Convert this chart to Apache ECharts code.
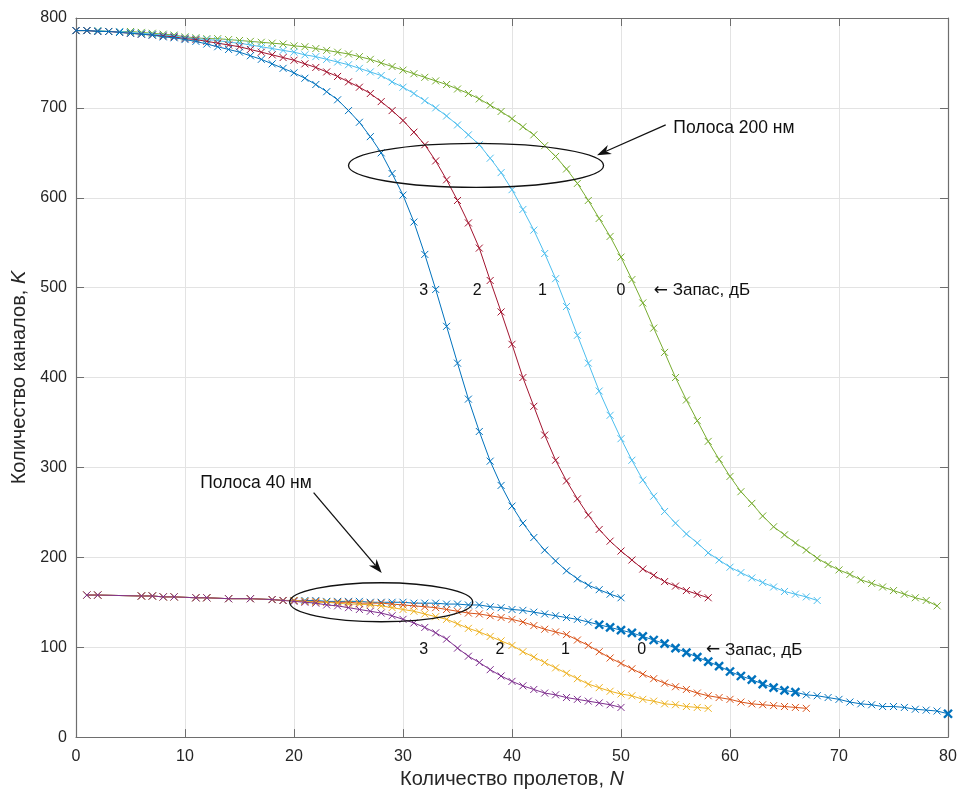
<!DOCTYPE html>
<html>
<head>
<meta charset="utf-8">
<script src="https://cdn.jsdelivr.net/npm/echarts@6/dist/echarts.min.js"></script>
<style>
  html, body { margin: 0; padding: 0; background: #fff; }
  #main { width: 962px; height: 794px; }
</style>
</head>
<body>
<div id="main"></div>
<script>
// Полоса 200 нм: x = 0,1,2,... (шаг 1)
var top3 = [786,786,785,785,784,783,782,781,779,778,776,774,771,768,765,762,758,754,749,744,739,733,726,718,709,697,684,668,650,627,603,573,537,498,457,416,376,340,307,280,257,238,222,208,196,185,176,169,164,159,155];
var top2 = [786,786,785,785,784,783,782,781,780,779,777,776,774,772,770,768,765,762,759,756,753,749,745,740,735,729,723,716,707,697,686,673,659,641,620,597,572,544,508,473,437,400,368,336,308,285,265,247,231,218,207,197,187,180,173,168,163,159,155];
var top1 = [786,786,786,785,785,784,783,782,781,780,778,777,776,775,773,772,770,768,766,764,762,759,757,754,751,748,744,740,736,729,723,716,708,700,691,681,670,659,644,628,609,587,564,538,510,479,447,416,385,358,332,308,286,268,251,238,226,216,205,197,189,183,177,172,167,162,159,156,152];
var top0 = [786,786,786,785,785,785,784,783,782,781,779,778,777,777,776,775,774,773,772,771,769,768,766,764,762,760,757,754,750,746,742,738,734,730,726,721,716,710,703,696,688,679,670,658,646,632,616,597,577,557,534,509,483,455,428,400,375,352,329,309,290,273,260,246,234,225,216,208,199,192,186,181,175,171,167,163,159,155,152,146];

// Полоса 40 нм: первые точки на неравномерной сетке, далее x = 20,21,...
var earlyX = [1,2,6,7,8,9,11,12,14,16,18,19];
var earlyY = [158,158,157,157,156,156,155,155,154,154,153,152];
var bot0 = [152,152,152,151,151,151,151,150,150,150,150,149,149,149,148,148,147,147,145,144,142,141,139,137,135,133,131,128,125,122,119,116,112,108,104,99,94,89,84,79,73,68,64,59,55,52,50,47,46,44,42,39,37,36,34,34,33,31,30,29,26];
var bot1 = [152,151,151,150,150,150,149,149,149,148,147,146,145,144,142,140,138,137,135,133,131,128,124,120,117,114,108,102,95,88,82,76,70,65,60,56,53,49,46,44,42,39,37,36,35,34,33,32];
var bot2 = [152,151,150,150,149,148,148,147,146,144,142,140,137,134,131,126,121,117,112,107,102,95,89,83,77,71,65,59,55,51,48,46,42,40,37,36,34,33,32];
var bot3 = [151,150,149,147,146,144,142,140,138,135,131,127,122,116,109,99,90,83,75,68,62,57,53,49,47,44,42,40,38,36,33];
var bot0Bold = [48,49,50,51,52,53,54,55,56,57,58,59,60,61,62,63,64,65,66,80];

var CROSS = 'path://M0,0L10,10M10,0L0,10';

function topData(arr) {
  return arr.map(function (v, i) { return [i, v]; });
}
function botData(arr, bold) {
  var d = [];
  earlyX.forEach(function (x, i) { d.push([x, earlyY[i]]); });
  arr.forEach(function (v, i) {
    var x = 20 + i;
    if (bold && bold.indexOf(x) >= 0) {
      d.push({ value: [x, v], symbolSize: 8, itemStyle: { borderWidth: 2.4 } });
    } else {
      d.push([x, v]);
    }
  });
  return d;
}
function line(data, color, z) {
  return {
    type: 'line',
    data: data,
    symbol: CROSS,
    symbolSize: 7,
    showAllSymbol: true,
    z: z,
    lineStyle: { color: color, width: 1 },
    itemStyle: { color: color, borderColor: color, borderWidth: 1 }
  };
}

var chart = echarts.init(document.getElementById('main'));
var axisCol = '#6e6e6e';
var txtCol = '#262626';
var font = 'Liberation Sans, Arial, sans-serif';
var nameRich = {
  t: { fontSize: 20, color: txtCol, fontFamily: font },
  i: { fontSize: 20, color: txtCol, fontStyle: 'italic', fontFamily: font }
};

var option = {
  animation: false,
  grid: { left: 76, right: 14, top: 18, bottom: 56 },
  xAxis: [{
    type: 'value', min: 0, max: 80, interval: 10,
    name: '{t|Количество пролетов, }{i|N}',
    nameLocation: 'middle', nameGap: 28,
    nameTextStyle: { rich: nameRich },
    axisLine: { onZero: false, lineStyle: { color: axisCol, width: 1.2 } },
    axisTick: { inside: true, length: 8, lineStyle: { color: axisCol } },
    axisLabel: { fontSize: 16, color: txtCol, fontFamily: font, margin: 11 },
    splitLine: { show: true, lineStyle: { color: '#e3e3e3' } }
  }, {
    type: 'value', min: 0, max: 80, interval: 10, position: 'top',
    axisLine: { onZero: false, lineStyle: { color: axisCol, width: 1.2 } },
    axisTick: { inside: true, length: 8, lineStyle: { color: axisCol } },
    axisLabel: { show: false }, splitLine: { show: false }
  }],
  yAxis: [{
    type: 'value', min: 0, max: 800, interval: 100,
    name: '{t|Количество каналов, }{i|K}',
    nameLocation: 'middle', nameGap: 46,
    nameTextStyle: { rich: nameRich },
    axisLine: { show: true, onZero: false, lineStyle: { color: axisCol, width: 1.2 } },
    axisTick: { show: true, inside: true, length: 8, lineStyle: { color: axisCol } },
    axisLabel: { fontSize: 16, color: txtCol, fontFamily: font, margin: 9 },
    splitLine: { show: true, lineStyle: { color: '#e3e3e3' } }
  }, {
    type: 'value', min: 0, max: 800, interval: 100, position: 'right',
    axisLine: { show: true, onZero: false, lineStyle: { color: axisCol, width: 1.2 } },
    axisTick: { show: true, inside: true, length: 8, lineStyle: { color: axisCol } },
    axisLabel: { show: false }, splitLine: { show: false }
  }],
  series: [
    line(topData(top0), '#77AC30', 2),
    line(topData(top1), '#4DBEEE', 3),
    line(topData(top2), '#A2142F', 4),
    line(topData(top3), '#0072BD', 5),
    line(botData(bot0, bot0Bold), '#0072BD', 2),
    line(botData(bot1), '#D95319', 3),
    line(botData(bot2), '#EDB120', 4),
    line(botData(bot3), '#7E2F8E', 5)
  ]
};
chart.setOption(option);

function px(x, y) { return chart.convertToPixel({ xAxisIndex: 0, yAxisIndex: 0 }, [x, y]); }
function ellipse(cx, cy, rx, ry) {
  var c = px(cx, cy), e = px(cx + rx, cy - ry);
  return { type: 'ellipse', z: 20, shape: { cx: c[0], cy: c[1], rx: e[0] - c[0], ry: e[1] - c[1] },
    style: { fill: 'none', stroke: '#111', lineWidth: 1.3 } };
}
function arrow(x1, y1, x2, y2) {
  var a = px(x1, y1), b = px(x2, y2);
  var dx = b[0] - a[0], dy = b[1] - a[1], L = Math.sqrt(dx * dx + dy * dy);
  var ux = dx / L, uy = dy / L, nx = -uy, ny = ux;
  var hl = 14, hw = 5;
  var base = [b[0] - ux * hl, b[1] - uy * hl];
  var notch = [b[0] - ux * hl * 0.7, b[1] - uy * hl * 0.7];
  return [
    { type: 'line', z: 20, shape: { x1: a[0], y1: a[1], x2: notch[0], y2: notch[1] }, style: { stroke: '#111', lineWidth: 1.3 } },
    { type: 'polygon', z: 20, shape: { points: [b, [base[0] + nx * hw, base[1] + ny * hw], notch, [base[0] - nx * hw, base[1] - ny * hw]] }, style: { fill: '#111' } }
  ];
}
function label(x, y, text, align, size) {
  var p = px(x, y);
  return { type: 'text', z: 21, x: p[0], y: p[1],
    style: { text: text, fill: '#111', fontSize: size || 16, fontFamily: font, align: align || 'center', verticalAlign: 'middle',
      rich: { a: { fontFamily: 'DejaVu Sans', fontSize: 17, fill: '#111' } } } };
}

var g = [];
g.push(ellipse(36.7, 636, 11.7, 24.5));
g.push(ellipse(28.0, 150, 8.4, 21.7));
g = g.concat(arrow(54.1, 681, 47.8, 647.4));
g = g.concat(arrow(21.8, 272, 28.05, 182.7));
g.push(label(54.8, 677, 'Полоса 200 нм', 'left', 17.5));
g.push(label(11.4, 282, 'Полоса 40 нм', 'left', 17.5));
[['3', 31.9], ['2', 36.8], ['1', 42.8], ['0', 50.0]].forEach(function (t) { g.push(label(t[1], 497, t[0])); });
g.push(label(53.0, 497, '{a|←} Запас, дБ', 'left', 17));
[['3', 31.9], ['2', 38.9], ['1', 44.9], ['0', 51.9]].forEach(function (t) { g.push(label(t[1], 97, t[0])); });
g.push(label(57.8, 97, '{a|←} Запас, дБ', 'left', 17));
chart.setOption({ graphic: g });
</script>
</body>
</html>
